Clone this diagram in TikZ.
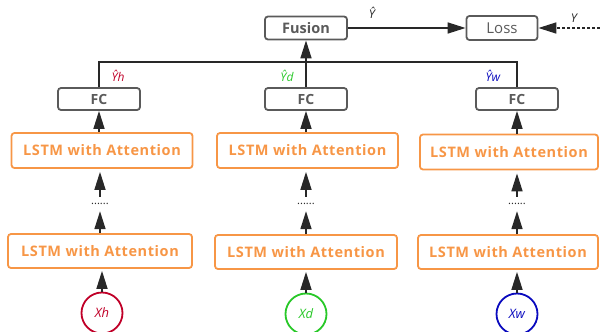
\documentclass[tikz,border=0pt]{standalone}
\usepackage{fontspec}
\setmainfont{Open Sans}
\newfontfamily\lfont[LetterSpace=4]{Open Sans}
\usetikzlibrary{arrows.meta}
\definecolor{org}{RGB}{247,150,70}
\definecolor{gboxc}{RGB}{90,90,90}
\definecolor{dk}{RGB}{40,40,40}
\definecolor{cred}{RGB}{192,0,40}
\definecolor{cgreen}{RGB}{40,200,40}
\definecolor{cblue}{RGB}{10,10,190}
\begin{document}
\begin{tikzpicture}[x=1pt,y=-1pt,
  gbox/.style={draw=gboxc,line width=1.8pt,rounded corners=3pt,inner sep=0pt,text=gboxc},
  lstm/.style={draw=org,line width=1.8pt,rounded corners=3pt,inner sep=0pt,text=org,
    font=\lfont\fontsize{14.5}{16}\selectfont\bfseries,minimum height=34pt},
  arr/.style={draw=dk,line width=1.6pt,-{Triangle[length=18pt,width=11pt]}},
  bus/.style={draw=dk,line width=1.8pt},
  inp/.style={circle,draw,line width=1.8pt,minimum size=41pt,inner sep=0pt,
    font=\fontsize{13}{15}\selectfont\itshape},
  dots/.style={inner sep=0pt,minimum height=14pt,font=\fontsize{11}{11}\selectfont,text=dk},
  lab/.style={inner sep=0pt,font=\fontsize{12}{14}\selectfont\itshape}
]
\useasboundingbox (0,0) rectangle (600,332);
% top row
\node[gbox,minimum width=82pt,minimum height=23pt,font=\fontsize{14.5}{16}\selectfont\bfseries] (fusion) at (306,28) {Fusion};
\node[gbox,minimum width=71pt,minimum height=24pt,font=\fontsize{15}{17}\selectfont] (loss) at (502,28) {Loss};
\coordinate (yin) at (600,28);
\node[lab,text=dk] (yhat) at (372,13) {Ŷ};
\node[lab,text=dk] (ylab) at (574,18) {Y};
\draw[arr] (fusion) -- (loss);
\draw[arr,dash pattern=on 3pt off 2pt] (yin) -- (loss);
% FC
\node[gbox,minimum width=82pt,minimum height=22pt,font=\fontsize{14}{16}\selectfont\bfseries] (fch) at (99,99) {FC};
\node[gbox,minimum width=82pt,minimum height=22pt,font=\fontsize{14}{16}\selectfont\bfseries] (fcd) at (306,99) {FC};
\node[gbox,minimum width=82pt,minimum height=22pt,font=\fontsize{14}{16}\selectfont\bfseries] (fcw) at (517,99) {FC};
\coordinate (busc) at (306,62);
\draw[bus] (fch.north) |- (busc) -| (fcw.north);
\draw[arr] (fcd.north) -- (fusion.south);
\node[lab,text=cred] (yh) at (118,76) {Ŷh};
\node[lab,text=cgreen] (yd) at (287,76) {Ŷd};
\node[lab,text=cblue] (yw) at (493,76) {Ŷw};
% LSTM upper
\node[lstm,minimum width=181pt,minimum height=35pt] (lh2) at (102,150.5) {LSTM with Attention};
\node[lstm,minimum width=181pt,minimum height=35pt] (ld2) at (307.5,150.5) {LSTM with Attention};
\node[lstm,minimum width=178pt,minimum height=35pt] (lw2) at (509,152) {LSTM with Attention};
% dots
\node[dots] (dh) at (100,204) {......};
\node[dots] (dd) at (306,204) {......};
\node[dots] (dw) at (517,204) {......};
% LSTM lower
\node[lstm,minimum width=184pt] (lh1) at (100,251) {LSTM with Attention};
\node[lstm,minimum width=182pt] (ld1) at (306,252) {LSTM with Attention};
\node[lstm,minimum width=180pt] (lw1) at (508,252) {LSTM with Attention};
% inputs
\node[inp,draw=cred,text=cred] (xh) at (102,313) {Xh};
\node[inp,draw=cgreen,text=cgreen] (xd) at (306,314) {Xd};
\node[inp,draw=cblue,text=cblue] (xw) at (517,314) {Xw};
% arrows
\foreach \c/\fc/\up/\dt/\lo/\x in {h/fch/lh2/dh/lh1/xh, d/fcd/ld2/dd/ld1/xd, w/fcw/lw2/dw/lw1/xw}{
  \draw[arr] (\fc.south |- \up.north) -- (\fc.south);
  \draw[arr,shorten >=3pt] (\dt.north) -- (\dt.north |- \up.south);
  \draw[arr] (\dt.south |- \lo.north) -- (\dt.south);
  \draw[arr,shorten >=2pt] (\x.north) -- (\x.north |- \lo.south);
}
\end{tikzpicture}
\end{document}
